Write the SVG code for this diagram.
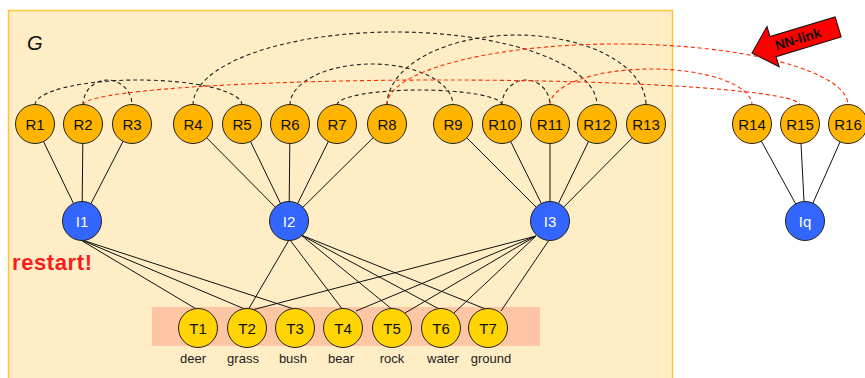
<svg xmlns="http://www.w3.org/2000/svg" width="865" height="378" viewBox="0 0 865 378">
  <style>
    .lbl { font-family: "Liberation Sans", Arial, sans-serif; font-size: 15px; text-anchor: middle; fill: #111; }
    .lbl-w { font-family: "Liberation Sans", Arial, sans-serif; font-size: 15px; text-anchor: middle; fill: #fff; }
    .word { font-family: "Liberation Sans", Arial, sans-serif; font-size: 13px; text-anchor: middle; fill: #222; }
    .r { fill: #FFB400; stroke: #222; stroke-width: 1; }
    .t { fill: #FFD400; stroke: #222; stroke-width: 1; }
    .i { fill: #3366FF; stroke: #222; stroke-width: 1; }
    .edge { stroke: #111; stroke-width: 1; fill: none; }
    .sim { stroke: #222; stroke-width: 1.1; stroke-dasharray: 4 3; fill: none; }
    .nn { stroke: #FF2A00; stroke-width: 1.1; stroke-dasharray: 4 3; fill: none; }
  </style>

  <!-- graph G area -->
  <rect x="8.5" y="10.5" width="664" height="380" fill="#FFEDC6" stroke="#FFC53A" stroke-width="1.5"/>
  <text x="27" y="50" font-family="Liberation Sans, Arial, sans-serif" font-size="20" font-style="italic" fill="#111">G</text>

  <!-- term band -->
  <rect x="152" y="307" width="388" height="39" fill="#FFC6A5"/>

  <text x="12" y="270" font-family="Liberation Sans, Arial, sans-serif" font-size="22" font-weight="bold" fill="#FF1A1A" textLength="80">restart!</text>

  <g id="connectors">
    <!-- region to image -->
    <line class="edge" x1="35" y1="124" x2="82" y2="221"/>
    <line class="edge" x1="83" y1="124" x2="82" y2="221"/>
    <line class="edge" x1="132" y1="124" x2="82" y2="221"/>
    <line class="edge" x1="193" y1="124" x2="289" y2="221"/>
    <line class="edge" x1="242" y1="124" x2="289" y2="221"/>
    <line class="edge" x1="290" y1="124" x2="289" y2="221"/>
    <line class="edge" x1="337" y1="124" x2="289" y2="221"/>
    <line class="edge" x1="387" y1="124" x2="289" y2="221"/>
    <line class="edge" x1="453" y1="124" x2="550" y2="221"/>
    <line class="edge" x1="502" y1="124" x2="550" y2="221"/>
    <line class="edge" x1="550" y1="124" x2="550" y2="221"/>
    <line class="edge" x1="597" y1="124" x2="550" y2="221"/>
    <line class="edge" x1="646" y1="124" x2="550" y2="221"/>
    <line class="edge" x1="752" y1="124" x2="805" y2="221"/>
    <line class="edge" x1="800" y1="124" x2="805" y2="221"/>
    <line class="edge" x1="848" y1="124" x2="805" y2="221"/>

    <!-- image to term -->
    <line class="edge" x1="79" y1="239" x2="198" y2="310"/>
    <line class="edge" x1="79" y1="239" x2="247" y2="310"/>
    <line class="edge" x1="79" y1="239" x2="300" y2="311"/>
    <line class="edge" x1="289" y1="240" x2="248" y2="310"/>
    <line class="edge" x1="290" y1="240" x2="343" y2="310"/>
    <line class="edge" x1="301" y1="235" x2="393" y2="310"/>
    <line class="edge" x1="301" y1="235" x2="441" y2="310"/>
    <line class="edge" x1="301" y1="235" x2="488" y2="310"/>
    <line class="edge" x1="536" y1="236" x2="252" y2="310"/>
    <line class="edge" x1="536" y1="236" x2="356" y2="311"/>
    <line class="edge" x1="536" y1="236" x2="405" y2="313"/>
    <line class="edge" x1="536" y1="236" x2="454" y2="313"/>
    <line class="edge" x1="549" y1="240" x2="501" y2="311"/>

    <!-- region similarity links -->
    <path class="sim" d="M35,105 A103.5,25 0 0 1 242,105"/>
    <path class="sim" d="M83,105 A24.5,25 0 0 1 132,105"/>
    <path class="sim" d="M193,105 A202,73 0 0 1 597,105"/>
    <path class="sim" d="M290,105 A81.5,41 0 0 1 453,105"/>
    <path class="sim" d="M337,105 A82.5,15 0 0 1 502,105"/>
    <path class="sim" d="M387,105 A129.5,70 0 0 1 646,105"/>
    <path class="sim" d="M502,105 A24,25 0 0 1 550,105"/>

    <!-- nearest-neighbour links -->
    <path class="nn" d="M83,105 A358.5,25 0 0 1 800,105"/>
    <path class="nn" d="M387,105 A230.5,61 0 0 1 848,105"/>
    <path class="nn" d="M550,105 A101,36 0 0 1 752,105"/>
  </g>

  <!-- region nodes -->
  <g id="R1"><circle class="r" cx="35" cy="124" r="19.5"/><text class="lbl" x="35" y="129.5">R1</text></g>
  <g id="R2"><circle class="r" cx="83" cy="124" r="19.5"/><text class="lbl" x="83" y="129.5">R2</text></g>
  <g id="R3"><circle class="r" cx="132" cy="124" r="19.5"/><text class="lbl" x="132" y="129.5">R3</text></g>
  <g id="R4"><circle class="r" cx="193" cy="124" r="19.5"/><text class="lbl" x="193" y="129.5">R4</text></g>
  <g id="R5"><circle class="r" cx="242" cy="124" r="19.5"/><text class="lbl" x="242" y="129.5">R5</text></g>
  <g id="R6"><circle class="r" cx="290" cy="124" r="19.5"/><text class="lbl" x="290" y="129.5">R6</text></g>
  <g id="R7"><circle class="r" cx="337" cy="124" r="19.5"/><text class="lbl" x="337" y="129.5">R7</text></g>
  <g id="R8"><circle class="r" cx="387" cy="124" r="19.5"/><text class="lbl" x="387" y="129.5">R8</text></g>
  <g id="R9"><circle class="r" cx="453" cy="124" r="19.5"/><text class="lbl" x="453" y="129.5">R9</text></g>
  <g id="R10"><circle class="r" cx="502" cy="124" r="19.5"/><text class="lbl" x="502" y="129.5">R10</text></g>
  <g id="R11"><circle class="r" cx="550" cy="124" r="19.5"/><text class="lbl" x="550" y="129.5">R11</text></g>
  <g id="R12"><circle class="r" cx="597" cy="124" r="19.5"/><text class="lbl" x="597" y="129.5">R12</text></g>
  <g id="R13"><circle class="r" cx="646" cy="124" r="19.5"/><text class="lbl" x="646" y="129.5">R13</text></g>
  <g id="R14"><circle class="r" cx="752" cy="124" r="19.5"/><text class="lbl" x="752" y="129.5">R14</text></g>
  <g id="R15"><circle class="r" cx="800" cy="124" r="19.5"/><text class="lbl" x="800" y="129.5">R15</text></g>
  <g id="R16"><circle class="r" cx="848" cy="124" r="19.5"/><text class="lbl" x="848" y="129.5">R16</text></g>

  <!-- image nodes -->
  <g id="I1"><circle class="i" cx="82" cy="221" r="19.5"/><text class="lbl-w" x="82" y="226.5">I1</text></g>
  <g id="I2"><circle class="i" cx="289" cy="221" r="19.5"/><text class="lbl-w" x="289" y="226.5">I2</text></g>
  <g id="I3"><circle class="i" cx="550" cy="221" r="19.5"/><text class="lbl-w" x="550" y="226.5">I3</text></g>
  <g id="Iq"><circle class="i" cx="805" cy="221" r="19.5"/><text class="lbl-w" x="805" y="226.5">Iq</text></g>

  <!-- term nodes -->
  <g id="T1"><circle class="t" cx="198" cy="328" r="19.5"/><text class="lbl" x="198" y="333.5">T1</text><text class="word" x="193" y="363">deer</text></g>
  <g id="T2"><circle class="t" cx="247" cy="328" r="19.5"/><text class="lbl" x="247" y="333.5">T2</text><text class="word" x="243" y="363">grass</text></g>
  <g id="T3"><circle class="t" cx="295" cy="328" r="19.5"/><text class="lbl" x="295" y="333.5">T3</text><text class="word" x="293" y="363">bush</text></g>
  <g id="T4"><circle class="t" cx="343" cy="328" r="19.5"/><text class="lbl" x="343" y="333.5">T4</text><text class="word" x="341" y="363">bear</text></g>
  <g id="T5"><circle class="t" cx="392" cy="328" r="19.5"/><text class="lbl" x="392" y="333.5">T5</text><text class="word" x="392" y="363">rock</text></g>
  <g id="T6"><circle class="t" cx="441" cy="328" r="19.5"/><text class="lbl" x="441" y="333.5">T6</text><text class="word" x="443" y="363">water</text></g>
  <g id="T7"><circle class="t" cx="488" cy="328" r="19.5"/><text class="lbl" x="488" y="333.5">T7</text><text class="word" x="491" y="363">ground</text></g>

  <!-- NN-link callout arrow -->
  <g id="nn-arrow" transform="translate(752,53) rotate(-16.8)">
    <polygon points="0,0 22,-21 22,-10.5 90,-10.5 90,10.5 22,10.5 22,21" fill="#FF0000" stroke="#111" stroke-width="1"/>
    <text x="48" y="4.5" font-family="Liberation Sans, Arial, sans-serif" font-size="13.5" font-weight="bold" text-anchor="middle" fill="#111">NN-link</text>
  </g>
</svg>
